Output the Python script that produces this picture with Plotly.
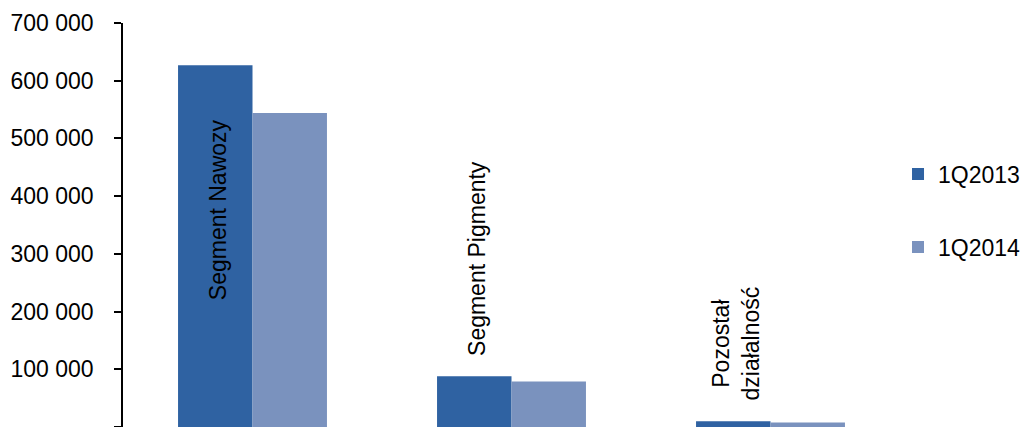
import plotly.graph_objects as go

categories = ["Segment Nawozy", "Segment Pigmenty", "Pozostała działalność"]
label_texts = ["Segment Nawozy", "Segment Pigmenty", "Pozostał<br>działalność"]
series_names = ["1Q2013", "1Q2014"]
values_2013 = [627000, 88000, 10000]
values_2014 = [544000, 79000, 8000]
tick_vals = [0, 100000, 200000, 300000, 400000, 500000, 600000, 700000]
tick_text = ["0", "100 000", "200 000", "300 000", "400 000", "500 000", "600 000", "700 000"]

FONT = "Liberation Sans"
colors = ["#2F62A2", "#7A92BE"]

fig = go.Figure()
fig.add_trace(go.Bar(x=list(range(len(categories))), y=values_2013, name=series_names[0],
                     marker=dict(color=colors[0], line=dict(width=0)), legend="legend"))
fig.add_trace(go.Bar(x=list(range(len(categories))), y=values_2014, name=series_names[1],
                     marker=dict(color=colors[1], line=dict(width=0)), legend="legend2"))

label_y = [376000, 291500, 145000]
for i, (t, yy) in enumerate(zip(label_texts, label_y)):
    fig.add_annotation(x=i - 0.144, y=yy, xref="x", yref="y", text=t, textangle=-90,
                       showarrow=False, align="center", xanchor="center", yanchor="middle",
                       font=dict(family=FONT, size=23, color="black"), xshift=3)

legend_common = dict(font=dict(family=FONT, size=23, color="black"), bgcolor="rgba(0,0,0,0)",
                     xanchor="left", yanchor="middle", borderwidth=0)
fig.update_layout(
    width=1026, height=427,
    margin=dict(l=123, r=120, t=23, b=0, pad=0),
    paper_bgcolor="white", plot_bgcolor="white",
    barmode="group", bargap=0.425, bargroupgap=0,
    showlegend=True,
    legend=dict(x=(904 - 123) / 783, y=1 - (174 - 23) / 404, **legend_common),
    legend2=dict(x=(904 - 123) / 783, y=1 - (247 - 23) / 404, **legend_common),
    xaxis=dict(range=[-0.5, 2.5], showticklabels=False, ticks="", showgrid=False,
               showline=True, linecolor="#D9D9D9", linewidth=1, zeroline=False, automargin=False),
    yaxis=dict(range=[0, 700000], tickvals=tick_vals, ticktext=tick_text, ticks="outside",
               ticklen=7, tickwidth=1.5, tickcolor="black", showline=True, linecolor="black",
               linewidth=1.5, showgrid=False, zeroline=False, automargin=False,
               ticklabelstandoff=16,
               tickfont=dict(family=FONT, size=23, color="black")),
)

fig.write_html("out.html")
